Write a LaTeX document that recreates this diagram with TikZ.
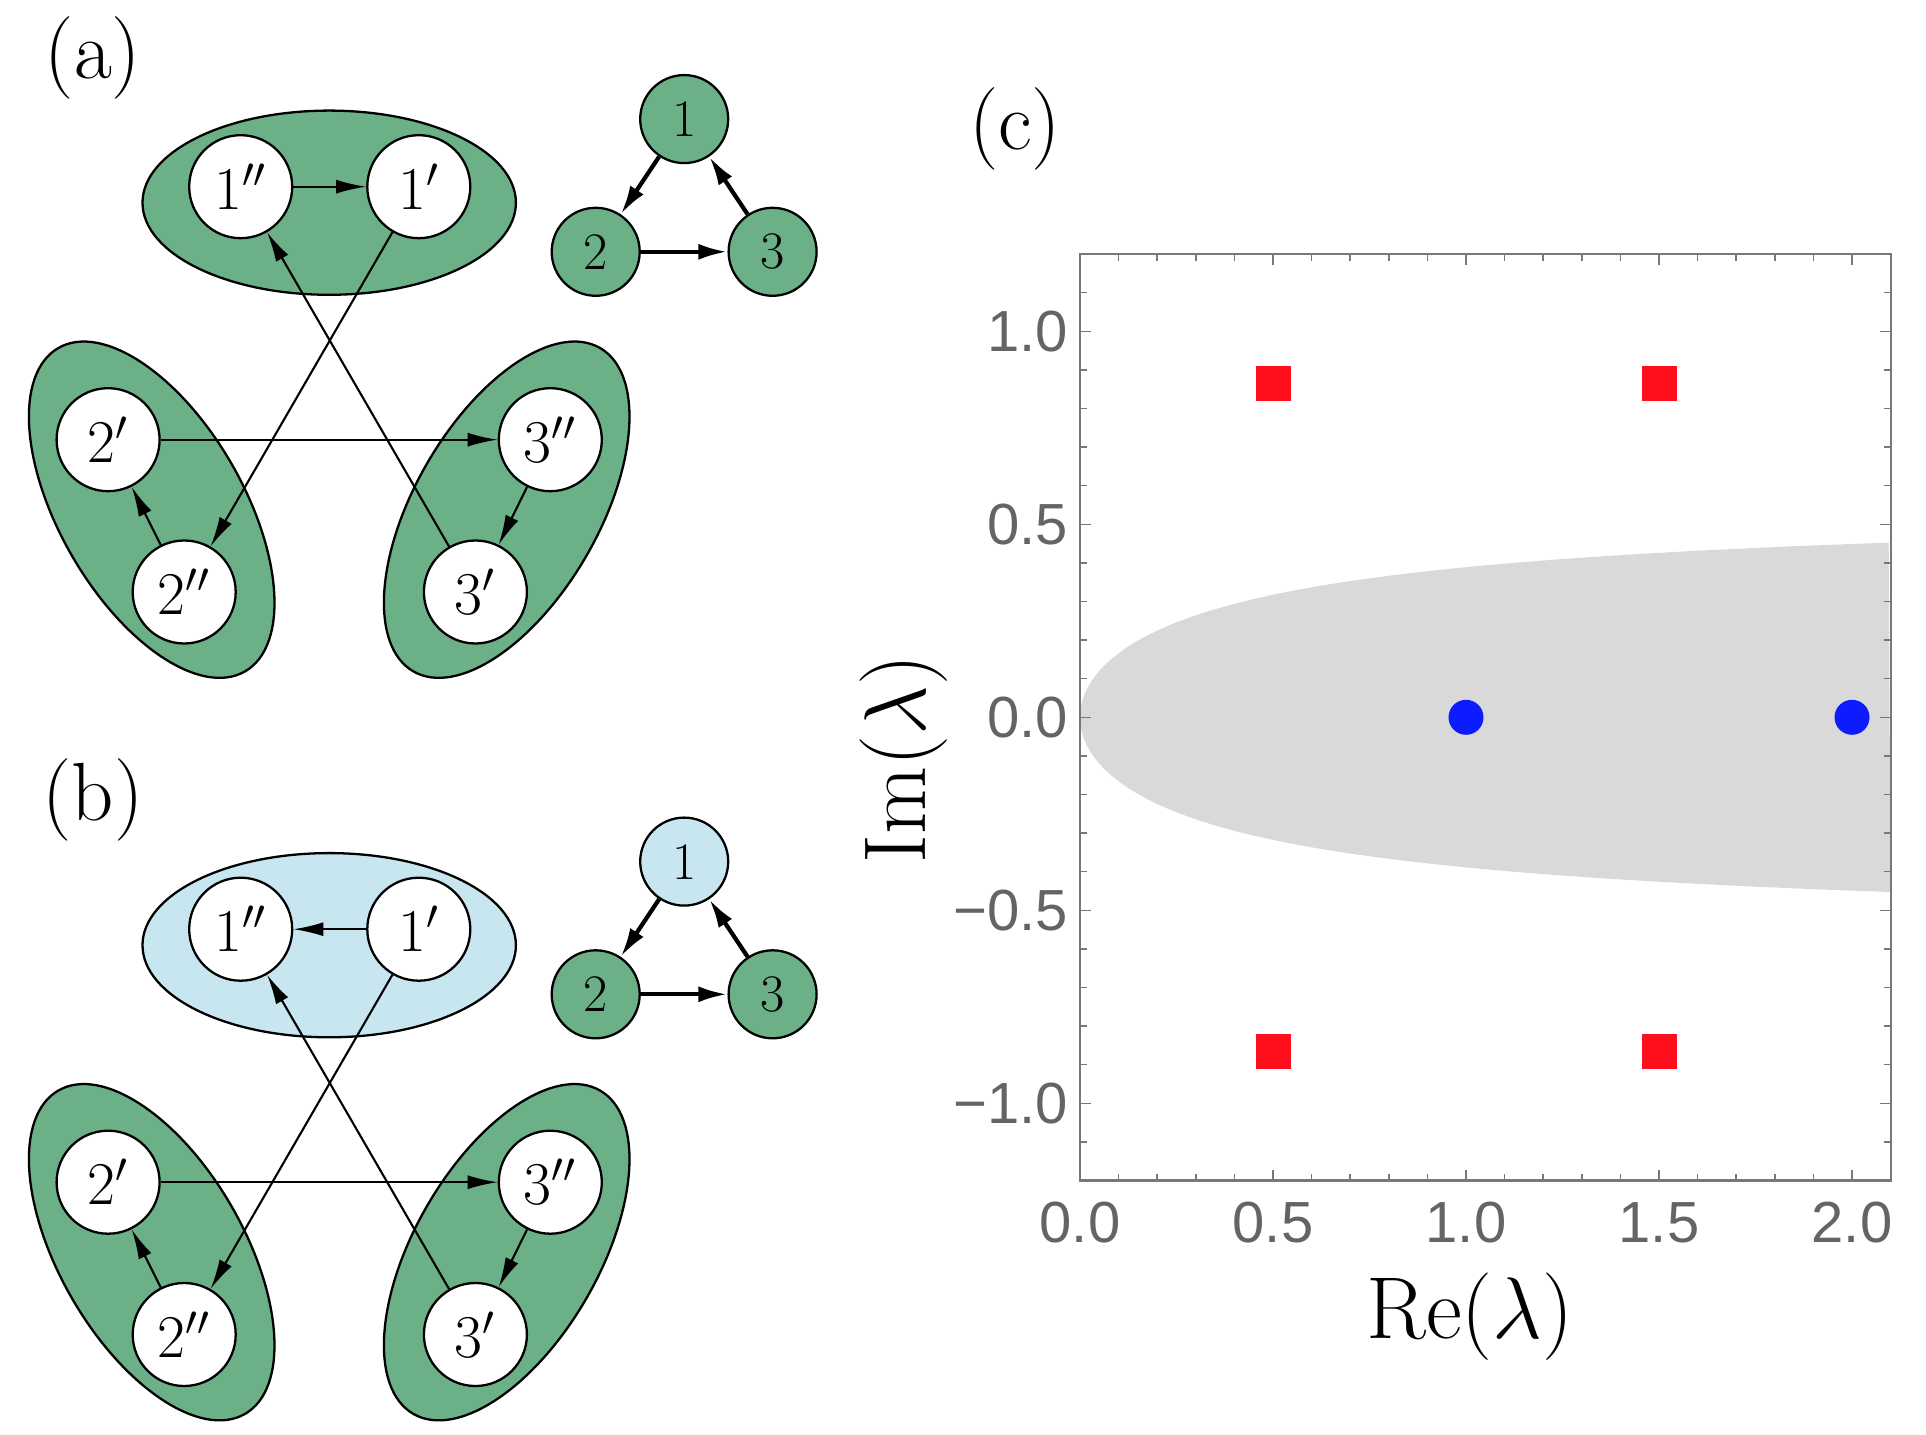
\documentclass[tikz,border=0pt]{standalone}
\usepackage{fontspec}
\newfontfamily\assifont{Liberation Sans}
\usetikzlibrary{arrows.meta}
\definecolor{verde}{RGB}{107,176,135}
\definecolor{azzurro}{RGB}{200,230,240}
\definecolor{grigioarea}{RGB}{217,217,217}
\definecolor{grigioassi}{RGB}{120,120,120}
\definecolor{grigiotesto}{RGB}{100,100,100}
\definecolor{rosso}{RGB}{255,14,30}
\definecolor{blu}{RGB}{12,28,255}
\begin{document}
\begin{tikzpicture}
    % Definizione stili
    \tikzstyle{gruppo}=[draw, line width=0.65pt]
    \tikzstyle{stato}=[draw, circle, fill=white, line width=0.65pt, minimum size=1.03cm, inner sep=0pt, font=\fontsize{16.5}{19}\selectfont]
    \tikzstyle{sito}=[draw, circle, fill=verde, line width=0.65pt, minimum size=0.88cm, inner sep=0pt, font=\fontsize{15}{18}\selectfont]
    \tikzstyle{legame}=[-{Latex[length=3mm,width=1.4mm]}, line width=0.6pt]
    \tikzstyle{legamesito}=[-{Latex[length=2.9mm,width=1.6mm]}, line width=1.2pt]
    \tikzstyle{etichetta}=[font=\fontsize{23.5}{28}\selectfont]
    \tikzstyle{asse}=[font=\fontsize{25}{30}\selectfont]
    \tikzstyle{tacca}=[grigioassi, line width=0.45pt]
    \tikzstyle{numero}=[font=\assifont\fontsize{16.5}{19}\selectfont, text=grigiotesto, inner sep=0pt]
    \tikzstyle{quadrato}=[rectangle, fill=rosso, minimum size=0.35cm, inner sep=0pt]
    \tikzstyle{punto}=[circle, fill=blu, minimum size=0.35cm, inner sep=0pt]

    \useasboundingbox (0,0) rectangle (19.26,14.34);

    % Etichette dei pannelli
    \node[etichetta] (lab_a) at (0.93,13.765) {(a)};
    \node[etichetta] (lab_b) at (0.93,6.345) {(b)};
    \node[etichetta] (lab_c) at (10.15,13.05) {(c)};

    % Pannello (a): gruppi
    \draw[gruppo, fill=verde] (3.292,12.313) ellipse (1.867 and 0.921);
    \draw[gruppo, fill=verde, rotate around={-60:(1.517,9.243)}] (1.517,9.243) ellipse (1.867 and 0.921);
    \draw[gruppo, fill=verde, rotate around={60:(5.067,9.243)}] (5.067,9.243) ellipse (1.867 and 0.921);

    % Pannello (a): stati
    \node[stato] (a_1pp) at (2.407,12.473) {$1''$};
    \node[stato] (a_1p) at (4.188,12.473) {$1'$};
    \node[stato] (a_2p) at (1.081,9.943) {$2'$};
    \node[stato] (a_2pp) at (1.842,8.420) {$2''$};
    \node[stato] (a_3pp) at (5.503,9.943) {$3''$};
    \node[stato] (a_3p) at (4.754,8.420) {$3'$};

    % Pannello (a): collegamenti
    \draw[legame] (a_1pp) -- (a_1p);
    \draw[legame] (a_1p) -- (a_2pp);
    \draw[legame] (a_2pp) -- (a_2p);
    \draw[legame] (a_2p) -- (a_3pp);
    \draw[legame] (a_3pp) -- (a_3p);
    \draw[legame] (a_3p) -- (a_1pp);

    % Pannello (a): anello
    \node[sito] (a_s1) at (6.842,13.149) {1};
    \node[sito] (a_s2) at (5.957,11.822) {2};
    \node[sito] (a_s3) at (7.726,11.822) {3};
    \draw[legamesito] (a_s1) -- (a_s2);
    \draw[legamesito] (a_s2) -- (a_s3);
    \draw[legamesito] (a_s3) -- (a_s1);

    % Pannello (b): gruppi
    \draw[gruppo, fill=azzurro] (3.292,4.888) ellipse (1.867 and 0.921);
    \draw[gruppo, fill=verde, rotate around={-60:(1.517,1.818)}] (1.517,1.818) ellipse (1.867 and 0.921);
    \draw[gruppo, fill=verde, rotate around={60:(5.067,1.818)}] (5.067,1.818) ellipse (1.867 and 0.921);

    % Pannello (b): stati
    \node[stato] (b_1pp) at (2.407,5.048) {$1''$};
    \node[stato] (b_1p) at (4.188,5.048) {$1'$};
    \node[stato] (b_2p) at (1.081,2.518) {$2'$};
    \node[stato] (b_2pp) at (1.842,0.995) {$2''$};
    \node[stato] (b_3pp) at (5.503,2.518) {$3''$};
    \node[stato] (b_3p) at (4.754,0.995) {$3'$};

    % Pannello (b): collegamenti
    \draw[legame] (b_1p) -- (b_1pp);
    \draw[legame] (b_1p) -- (b_2pp);
    \draw[legame] (b_2pp) -- (b_2p);
    \draw[legame] (b_2p) -- (b_3pp);
    \draw[legame] (b_3pp) -- (b_3p);
    \draw[legame] (b_3p) -- (b_1pp);

    % Pannello (b): anello
    \node[sito, fill=azzurro] (b_s1) at (6.842,5.724) {1};
    \node[sito] (b_s2) at (5.957,4.397) {2};
    \node[sito] (b_s3) at (7.726,4.397) {3};
    \draw[legamesito] (b_s1) -- (b_s2);
    \draw[legamesito] (b_s2) -- (b_s3);
    \draw[legamesito] (b_s3) -- (b_s1);

    % Pannello (c): spettro
    \begin{scope}[shift={(10.80,7.167)}, x=3.86cm, y=3.86cm]
        % regione grigia
        \fill[grigioarea] plot[domain=-1.4491:1.4491, samples=150, smooth] ({\x*\x},{0.55*\x/sqrt(1+\x*\x)}) -- cycle;

        % autovalori
        \node[quadrato] (q1) at (0.5,0.866) {};
        \node[quadrato] (q2) at (1.5,0.866) {};
        \node[quadrato] (q3) at (0.5,-0.866) {};
        \node[quadrato] (q4) at (1.5,-0.866) {};
        \node[punto] (p1) at (1,0) {};
        \node[punto] (p2) at (2,0) {};

        % cornice e tacche
        \draw[grigioassi, line width=0.6pt] (0,-1.2) rectangle (2.1,1.2);
        \foreach \i in {0,...,21} {
            \draw[tacca] (\i/10,-1.2) -- ++(0pt,0.07cm);
            \draw[tacca] (\i/10,1.2) -- ++(0pt,-0.07cm);
        }
        \foreach \i in {-12,...,12} {
            \draw[tacca] (0,\i/10) -- ++(0.07cm,0pt);
            \draw[tacca] (2.1,\i/10) -- ++(-0.07cm,0pt);
        }
        \foreach \xx/\lab [count=\k] in {0/0.0,0.5/0.5,1/1.0,1.5/1.5,2/2.0} {
            \draw[tacca] (\xx,-1.2) -- ++(0pt,0.11cm);
            \draw[tacca] (\xx,1.2) -- ++(0pt,-0.11cm);
            \node[numero] (tx\k) at (\xx,-1.31) {\lab};
        }
        \foreach \yy/\lab [count=\k] in {-1/−1.0,-0.5/−0.5,0/0.0,0.5/0.5,1/1.0} {
            \draw[tacca] (0,\yy) -- ++(0.11cm,0pt);
            \draw[tacca] (2.1,\yy) -- ++(-0.11cm,0pt);
            \node[numero, anchor=east] (ty\k) at (-0.03,\yy) {\lab};
        }
    \end{scope}

    % Titoli degli assi
    \node[asse] (re) at (14.70,1.17) {$\mathrm{Re}(\lambda)$};
    \node[asse, rotate=90] (im) at (9.035,6.75) {$\mathrm{Im}(\lambda)$};
\end{tikzpicture}
\end{document}
